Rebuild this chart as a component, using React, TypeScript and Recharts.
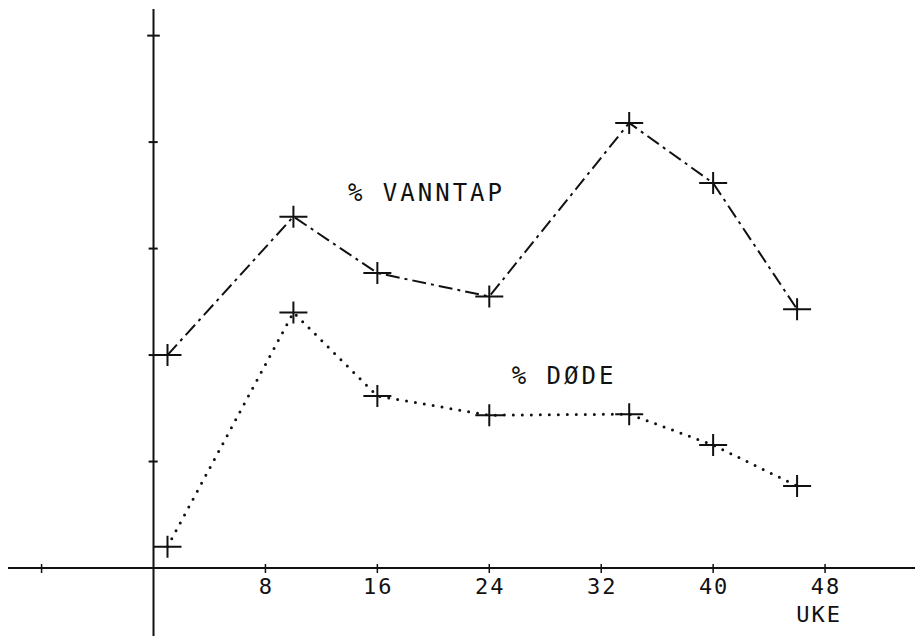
import { LineChart, Line, XAxis, YAxis, ReferenceLine, ReferenceDot } from 'recharts'

// weeks (UKE) and the two percentage series
const weeks = [1, 10, 16, 24, 34, 40, 46]
const vanntap = [40, 66, 55.4, 51, 83.6, 72.3, 48.6]
const dode = [4, 48, 32.3, 28.7, 28.9, 23.1, 15.4]

const weekTicks = [-8, 8, 16, 24, 32, 40, 48]
const percentTicks = [20, 40, 60, 80, 100]

const data = weeks.map((week, i) => ({ week, vanntap: vanntap[i], dode: dode[i] }))

const INK = '#111'
const FONT = '"DejaVu Sans Mono", monospace'

const textStyle = { fontFamily: FONT, fontSize: 24, letterSpacing: 3, fill: INK }
const tickStyle = { ...textStyle, fontSize: 22, letterSpacing: 2 }

// plotter-style "+" marker
const cross = (props: any) => {
  const { cx, cy, index } = props
  return (
    <path
      key={`c-${index}`}
      d={`M${cx - 14},${cy}h28M${cx},${cy - 11}v22`}
      stroke={INK}
      strokeWidth={2}
      fill="none"
    />
  )
}

const WeekTick = (props: any) => {
  const { x, y, payload } = props
  const v = payload.value
  return (
    <g>
      <line x1={x} x2={x} y1={y - 4} y2={y + 5} stroke={INK} strokeWidth={1.5} />
      {v > 0 && (
        <text x={x + 1} y={y + 26} textAnchor="middle" style={tickStyle}>
          {v}
        </text>
      )}
      {v === 48 && (
        <text x={x - 6} y={y + 54} textAnchor="middle" style={tickStyle}>
          UKE
        </text>
      )}
    </g>
  )
}

const seriesLabel = (text: string) => (p: any) => {
  const { viewBox } = p
  return (
    <text x={viewBox.x} y={viewBox.y + 9} style={textStyle}>
      {text}
    </text>
  )
}

export default function App() {
  return (
    <div style={{ background: '#fff', width: 923, height: 644, margin: -8 }}>
      <LineChart width={923} height={644} data={data} margin={{ top: 9, right: 0, bottom: 0, left: 8 }}>
        <XAxis
          dataKey="week"
          type="number"
          domain={[-10.4, 55]}
          ticks={weekTicks}
          interval={0}
          tickLine={false}
          tickSize={0}
          tickMargin={0}
          height={76}
          axisLine={{ stroke: INK, strokeWidth: 2 }}
          tick={<WeekTick />}
          allowDataOverflow
        />
        <YAxis hide domain={[0, 105]} allowDataOverflow />

        {/* vertical axis, carried on below the week axis */}
        <ReferenceLine
          segment={[{ x: 0, y: -14.5 }, { x: 0, y: 105 }]}
          ifOverflow="visible"
          stroke={INK}
          strokeWidth={2}
        />
        {percentTicks.map((v) => (
          <ReferenceLine
            key={v}
            segment={[{ x: v === 100 ? -0.45 : -0.35, y: v }, { x: v === 100 ? 0.45 : 0.3, y: v }]}
            ifOverflow="visible"
            stroke={INK}
            strokeWidth={2}
          />
        ))}

        <Line
          dataKey="vanntap"
          stroke={INK}
          strokeWidth={2}
          strokeDasharray="14 5 3 5"
          dot={cross}
          activeDot={false}
          isAnimationActive={false}
        />
        <Line
          dataKey="dode"
          stroke={INK}
          strokeWidth={3}
          strokeDasharray="0 9"
          strokeLinecap="round"
          dot={cross}
          activeDot={false}
          isAnimationActive={false}
        />

        <ReferenceDot x={13.9} y={70.6} r={0} fill="none" stroke="none" ifOverflow="visible" label={seriesLabel('% VANNTAP')} />
        <ReferenceDot x={25.6} y={36.2} r={0} fill="none" stroke="none" ifOverflow="visible" label={seriesLabel('% DØDE')} />
      </LineChart>
    </div>
  )
}
